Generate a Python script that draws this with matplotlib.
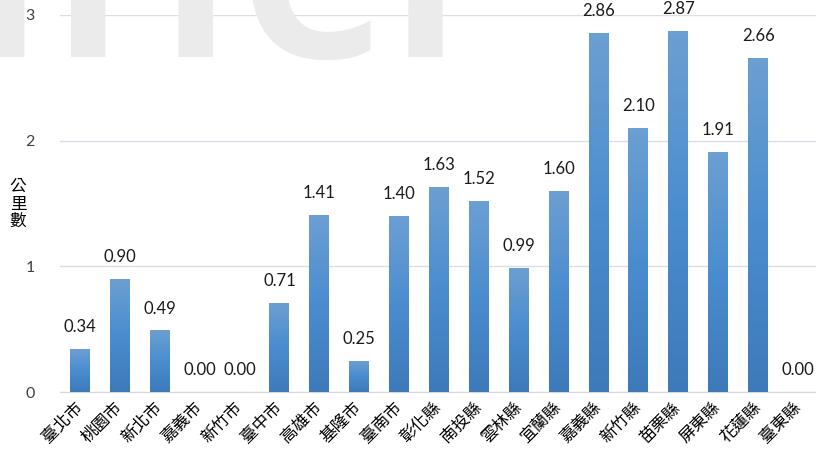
import matplotlib.pyplot as plt
import numpy as np
from matplotlib.colors import LinearSegmentedColormap

# 各縣市公里數
cities = ['臺北市', '桃園市', '新北市', '嘉義市', '新竹市', '臺中市', '高雄市', '基隆市', '臺南市',
          '彰化縣', '南投縣', '雲林縣', '宜蘭縣', '嘉義縣', '新竹縣', '苗栗縣', '屏東縣', '花蓮縣', '臺東縣']
km = [0.34, 0.90, 0.49, 0.00, 0.00, 0.71, 1.41, 0.25, 1.40,
      1.63, 1.52, 0.99, 1.60, 2.86, 2.10, 2.87, 1.91, 2.66, 0.00]
y_ticks = [0, 1, 2, 3]

plt.rcParams['font.family'] = ['Noto Sans CJK TC', 'DejaVu Sans']

fig = plt.figure(figsize=(8.16, 4.51), dpi=100)
ax = fig.add_axes([60 / 816, 59 / 451, 758 / 816, 377 / 451])

# faint watermark lettering behind the plot
fig.text(-0.175, 1 - 57 / 451, 'nncl', fontsize=215, color='#ebebeb', family='Open Sans',
         weight='semibold', ha='left', va='baseline', zorder=0)

x = np.arange(len(cities))
width = 0.5
bars = ax.bar(x, km, width=width, color='none', edgecolor='none', zorder=3)

grad = LinearSegmentedColormap.from_list('bar', ['#3e7aba', '#4a8dcf', '#6c9fd2'])
g = np.linspace(0, 1, 64).reshape(-1, 1)
for b, v in zip(bars, km):
    if v <= 0:
        continue
    im = ax.imshow(g, cmap=grad, origin='lower', aspect='auto', zorder=3,
                   extent=[b.get_x(), b.get_x() + b.get_width(), 0, v])
    im.set_clip_path(b)

for xi, v in zip(x, km):
    ax.annotate('{:.2f}'.format(v), (xi, v), xytext=(0, 10), textcoords='offset points',
                ha='center', va='bottom', fontsize=12, family='Lato', color='#1a1a1a')

ax.set_xlim(-0.5, len(cities) - 0.5)
ax.set_ylim(0, 3)
ax.set_yticks(y_ticks)
ax.yaxis.grid(True, color='#d9dfe8', linewidth=1)
ax.set_axisbelow(True)
for s in ['top', 'right', 'left']:
    ax.spines[s].set_visible(False)
ax.spines['bottom'].set_color('#d0d7e1')
ax.tick_params(axis='y', length=0, pad=18, labelsize=11.5, labelcolor='#404040')
ax.tick_params(axis='x', length=0, pad=9)
ax.set_xticks(x)
ax.set_xticklabels(cities, rotation=45, ha='right', va='center', rotation_mode='anchor',
                   fontsize=12)
for lbl in ax.get_yticklabels():
    lbl.set_family('Lato')

fig.text(18 / 816, 1 - 204 / 451, '公\n里\n數', fontsize=12, ha='center', va='center',
         linespacing=1.05)

fig.savefig('out.png', dpi=100)
